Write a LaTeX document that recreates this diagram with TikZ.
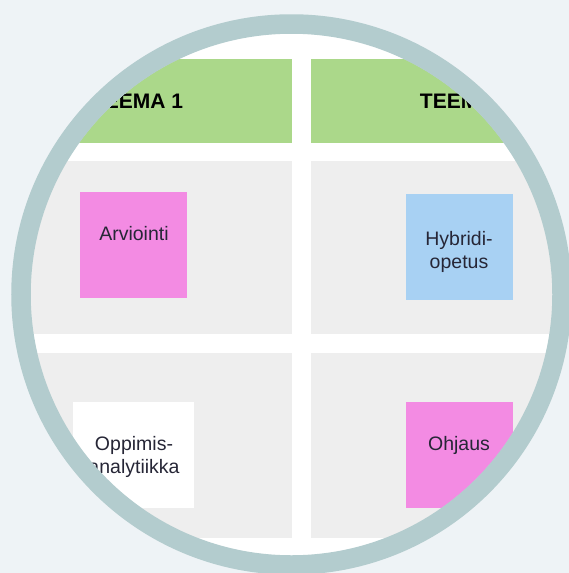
\documentclass[tikz,border=0pt]{standalone}
\usepackage{fontspec}
\setmainfont{Liberation Sans}
\definecolor{pagebg}{HTML}{EEF3F6}
\definecolor{ringgrey}{HTML}{B3CCCE}
\definecolor{cellgrey}{HTML}{EEEEEE}
\definecolor{themegreen}{HTML}{ABD88A}
\definecolor{notepink}{HTML}{F38BE3}
\definecolor{noteblue}{HTML}{A8D1F3}
\definecolor{notetext}{HTML}{262636}
\begin{document}
\begin{tikzpicture}[
		x=1pt, y=-1pt,
			theme/.style = {
				fill = themegreen,
				minimum width = 309pt,
				minimum height = 84pt,
				font = \bfseries\fontsize{21}{25}\selectfont
			},
			sticky/.style = {
				minimum width = 107pt,
				minimum height = 106pt
			},
			notetxt/.style = {
				align = center,
				text = notetext,
				font = \fontsize{19.5}{23}\selectfont
			}
		]
		\fill[pagebg] (0,0) rectangle (569,573);
		\useasboundingbox (0,0) rectangle (569,573);
		\begin{scope}
			\clip (291.5,294.5) circle (261pt);
			\fill[white] (0,0) rectangle (569,573);
			\node[theme] (T1) at (137.5,101) {TEEMA 1};
			\node[theme] (T2) at (465.5,101) {TEEMA 2};
			\fill[cellgrey] (-17,161) rectangle (292,334);
			\fill[cellgrey] (311,161) rectangle (620,334);
			\fill[cellgrey] (-17,353) rectangle (292,538);
			\fill[cellgrey] (311,353) rectangle (620,538);
			\node[sticky, fill=notepink] (arv) at (133.5,245) {};
			\node[sticky, fill=noteblue] (hyb) at (459.5,247) {};
			\node[sticky, fill=white, minimum width=121pt] (opp) at (133.5,455) {};
			\node[sticky, fill=notepink] (ohj) at (459,455) {};
			\node[notetxt] (arvT) at (134,234) {Arviointi};
			\node[notetxt] (hybT) at (459,251.5) {Hybridi-\\opetus};
			\node[notetxt] (oppT) at (134,456.5) {Oppimis-\\analytiikka};
			\node[notetxt] (ohjT) at (459,445) {Ohjaus};
		\end{scope}
		\draw[ringgrey, line width=19.5pt] (291.5,294.5) circle (270.5pt);
	\end{tikzpicture}
\end{document}
